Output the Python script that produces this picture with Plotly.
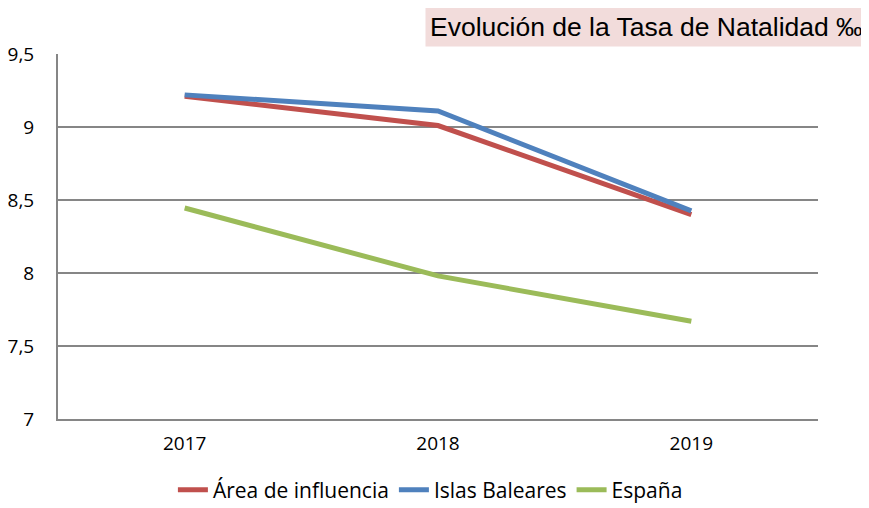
import plotly.graph_objects as go

years = ["2017", "2018", "2019"]
area_influencia = [9.21, 9.01, 8.40]
islas_baleares = [9.22, 9.11, 8.425]
espana = [8.445, 7.98, 7.67]

series = [
    ("Área de influencia", area_influencia, "#C0504D"),
    ("Islas Baleares", islas_baleares, "#4F81BD"),
    ("España", espana, "#9BBB59"),
]

fig = go.Figure()
for name, vals, color in series:
    fig.add_trace(go.Scatter(x=years, y=vals, name=name, mode="lines",
                             line=dict(color=color, width=5)))

font_family = "Open Sans, DejaVu Sans, sans-serif"
title_font = "Liberation Sans, Arial, DejaVu Sans, sans-serif"
# page body has an 8px default margin, so the figure is 8px smaller and offset
W, H = 861, 500
L, R, T, B = 50, 51, 46, 89
fig.update_layout(
    width=W, height=H,
    margin=dict(l=L, r=R, t=T, b=B, autoexpand=False),
    plot_bgcolor="white", paper_bgcolor="white",
    separators=",.",
    font=dict(family=font_family, size=19, color="black"),
    showlegend=True,
    legend=dict(orientation="h", x=0.49, xanchor="center",
                yref="container", y=0.036, yanchor="middle",
                font=dict(size=21), tracegroupgap=0),
    xaxis=dict(type="category", range=[-0.5, 2.5], showgrid=False,
               showline=True, linecolor="#868686", linewidth=2,
               ticks="", ticklabelstandoff=6, automargin=False),
    yaxis=dict(range=[7, 9.5], dtick=0.5, showgrid=True, gridcolor="#868686",
               gridwidth=2, showline=True, linecolor="#868686", linewidth=2,
               ticks="", ticklabelstandoff=18, zeroline=False, automargin=False),
)
plot_w = W - L - R
plot_h = H - T - B
fig.add_annotation(text="Evolución de la Tasa de Natalidad ‰", xref="paper", yref="paper",
                   x=(W - L - 1) / plot_w, y=(plot_h + T - 19) / plot_h,
                   xanchor="right", yanchor="middle",
                   showarrow=False, bgcolor="#F2DCDB",
                   font=dict(size=26.5, family=title_font), borderpad=4)
fig.write_html("out.html")
